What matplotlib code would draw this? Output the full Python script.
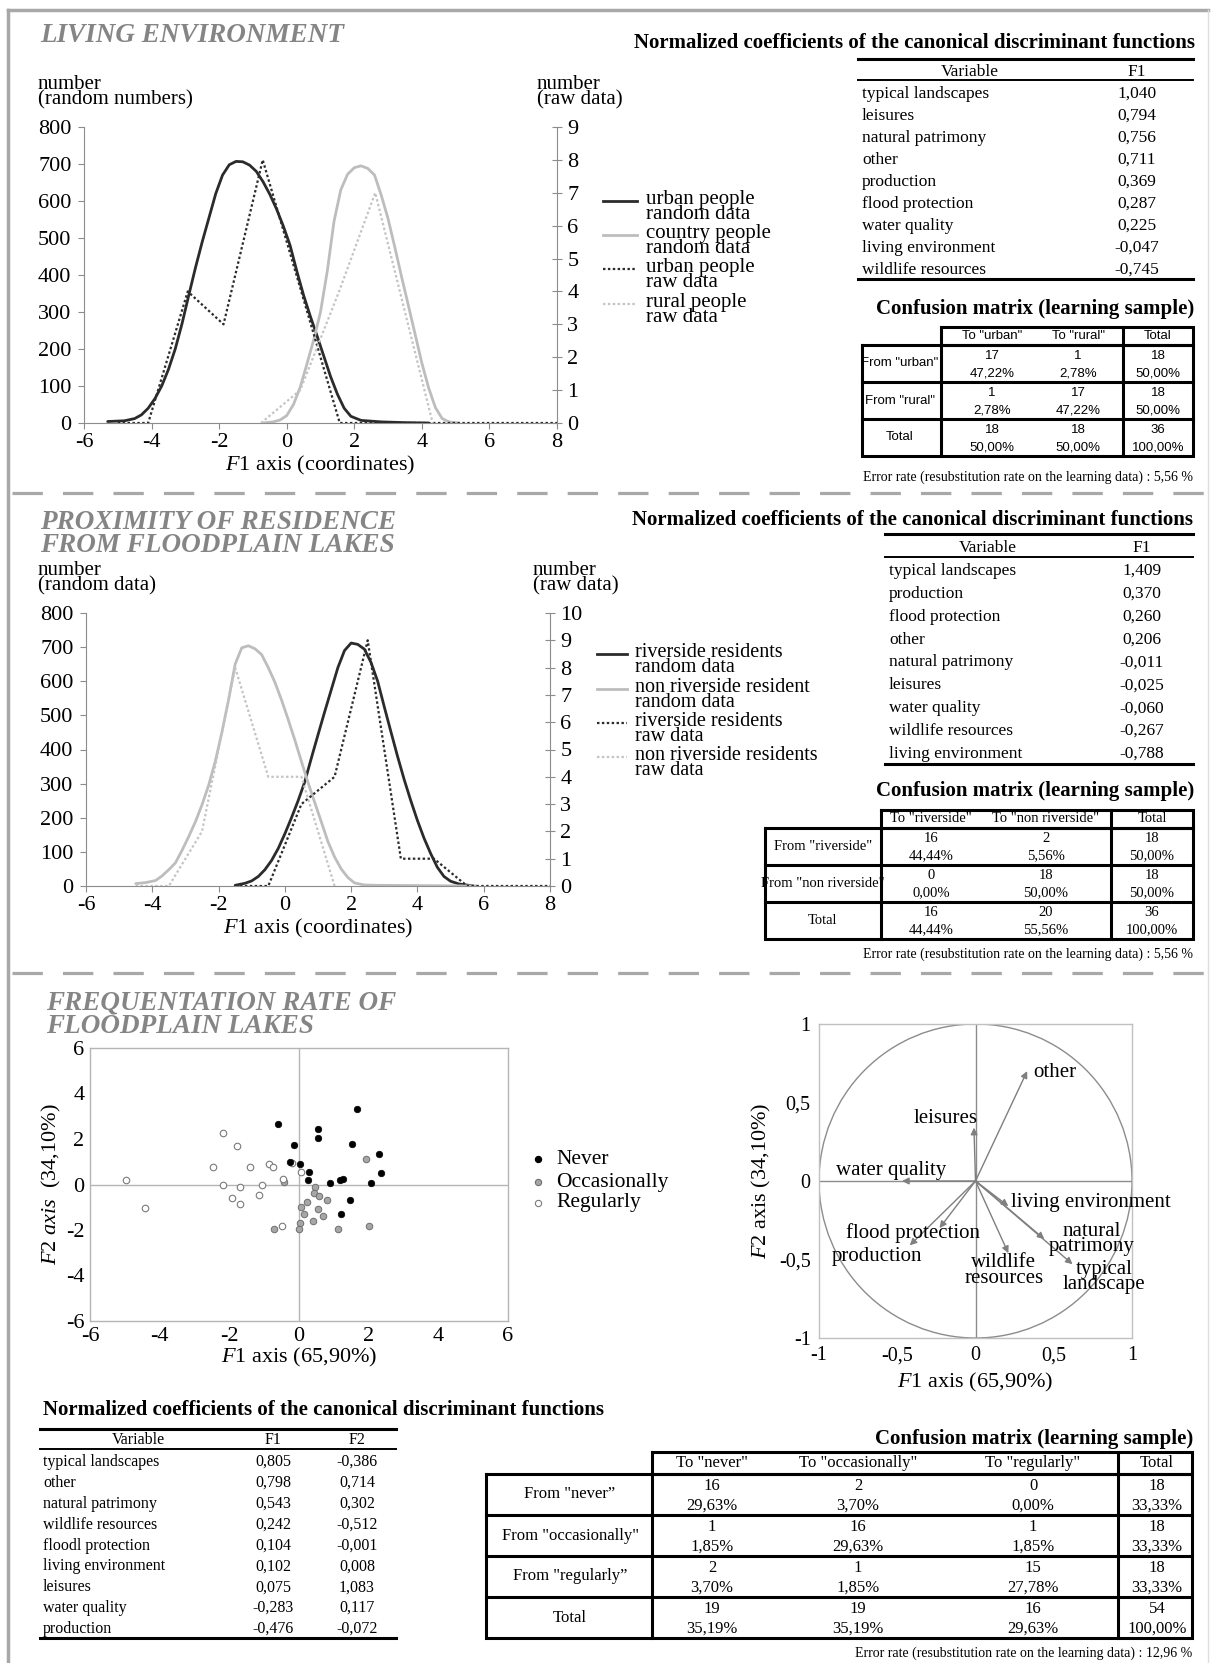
import numpy as np
import matplotlib
matplotlib.use('Agg')
import matplotlib.pyplot as plt
from matplotlib.patches import Circle
from matplotlib.ticker import FuncFormatter

W, H = 1214, 1663

plt.rcParams['font.family'] = ['Liberation Serif', 'DejaVu Serif']
plt.rcParams['mathtext.fontset'] = 'custom'
plt.rcParams['mathtext.rm'] = 'Liberation Serif'
plt.rcParams['mathtext.it'] = 'Liberation Serif:italic'
plt.rcParams['axes.unicode_minus'] = False

DARK = '#2b2b2b'
LIGHT = '#bdbdbd'
TITLE_GRAY = '#858585'
SPINE = '#8c8c8c'

# ---------------- data: living environment ----------------
urban_rand_x = [-5.3, -4.8, -4.5, -4.3, -4.1, -3.9, -3.7, -3.5, -3.3, -3.1, -2.9, -2.7, -2.5,
                -2.3, -2.1, -1.9, -1.7, -1.5, -1.3, -1.1, -0.9, -0.7, -0.5, -0.3, -0.1, 0.1,
                0.3, 0.5, 0.7, 0.9, 1.1, 1.3, 1.5, 1.7, 1.9, 2.2, 2.8, 3.5, 4.2]
urban_rand_y = [4, 6, 12, 22, 40, 66, 100, 145, 200, 268, 345, 420, 490, 555, 620, 670, 698,
                707, 706, 697, 680, 652, 618, 578, 532, 480, 410, 345, 288, 235, 180, 125,
                78, 40, 18, 7, 3, 1, 0]
country_rand_x = [-0.7, -0.4, -0.2, 0.0, 0.2, 0.4, 0.6, 0.8, 1.0, 1.2, 1.4, 1.6, 1.8, 2.0,
                  2.2, 2.4, 2.6, 2.8, 3.0, 3.2, 3.4, 3.6, 3.8, 4.0, 4.2, 4.4, 4.6, 4.8, 5.1]
country_rand_y = [0, 3, 8, 20, 50, 97, 160, 225, 300, 410, 545, 630, 672, 690, 695, 688, 670,
                  615, 552, 475, 395, 318, 240, 162, 95, 42, 12, 3, 0]
urban_raw_x = [-5.0, -4.1, -2.93, -1.87, -0.71, 1.57, 8.0]
urban_raw_y = [0, 0, 4, 3, 8, 0, 0]
rural_raw_x = [-0.76, 0.4, 1.55, 2.62, 4.32]
rural_raw_y = [0, 1, 4, 7, 0]
top_legend = ['urban people\nrandom data', 'country people\nrandom data',
              'urban people\nraw data', 'rural people\nraw data']

top_vars = ['typical landscapes', 'leisures', 'natural patrimony', 'other', 'production',
            'flood protection', 'water quality', 'living environment', 'wildlife resources']
top_f1 = [1.040, 0.794, 0.756, 0.711, 0.369, 0.287, 0.225, -0.047, -0.745]
top_rows = ['From "urban"', 'From "rural"', 'Total']
top_cols = ['To "urban"', 'To "rural"']
top_counts = [[17, 1, 18], [1, 17, 18], [18, 18, 36]]
top_pcts = [[47.22, 2.78, 50.00], [2.78, 47.22, 50.00], [50.00, 50.00, 100.00]]
top_error = 5.56

# ---------------- data: proximity of residence ----------------
river_rand_x = [-1.5, -1.2, -1.0, -0.8, -0.6, -0.4, -0.2, 0.0, 0.2, 0.4, 0.6, 0.8, 1.0, 1.2,
                1.4, 1.6, 1.8, 2.0, 2.2, 2.4, 2.6, 2.8, 3.0, 3.2, 3.4, 3.6, 3.8, 4.0, 4.2,
                4.4, 4.6, 4.8, 5.0, 5.25, 5.7]
river_rand_y = [2, 8, 15, 28, 48, 75, 110, 153, 200, 250, 305, 375, 443, 510, 575, 640, 690,
                712, 708, 694, 655, 600, 525, 452, 380, 312, 250, 192, 140, 95, 55, 28, 14,
                6, 0]
nonriver_rand_x = [-4.5, -4.2, -3.9, -3.7, -3.5, -3.3, -3.1, -2.9, -2.7, -2.5, -2.3, -2.1,
                   -1.9, -1.7, -1.5, -1.3, -1.1, -0.9, -0.7, -0.5, -0.3, -0.1, 0.1, 0.3,
                   0.5, 0.7, 0.9, 1.1, 1.3, 1.5, 1.7, 1.9, 2.1, 2.4, 2.8, 5.8]
nonriver_rand_y = [7, 10, 16, 30, 48, 68, 105, 145, 188, 238, 295, 365, 450, 545, 650, 698,
                   704, 695, 678, 640, 597, 545, 488, 428, 365, 303, 245, 188, 130, 85, 50,
                   25, 9, 3, 2, 0]
river_raw_x = [-1.5, -0.5, 0.5, 1.5, 2.5, 3.5, 4.5, 5.5, 8.0]
river_raw_y = [0, 0, 3, 4, 9, 1, 1, 0, 0]
nonriver_raw_x = [-4.5, -3.5, -2.5, -1.5, -0.5, 0.5, 1.5]
nonriver_raw_y = [0, 0, 2, 8, 4, 4, 0]
mid_legend = ['riverside residents\nrandom data', 'non riverside resident\nrandom data',
              'riverside residents\nraw data', 'non riverside residents\nraw data']

mid_vars = ['typical landscapes', 'production', 'flood protection', 'other',
            'natural patrimony', 'leisures', 'water quality', 'wildlife resources',
            'living environment']
mid_f1 = [1.409, 0.370, 0.260, 0.206, -0.011, -0.025, -0.060, -0.267, -0.788]
mid_rows = ['From "riverside"', 'From "non riverside"', 'Total']
mid_cols = ['To "riverside"', 'To "non riverside"']
mid_counts = [[16, 2, 18], [0, 18, 18], [16, 20, 36]]
mid_pcts = [[44.44, 5.56, 50.00], [0.00, 50.00, 50.00], [44.44, 55.56, 100.00]]
mid_error = 5.56

# ---------------- data: frequentation rate ----------------
never_x = [-0.59, 0.55, 0.55, 1.66, -0.14, 1.52, -0.27, 0.03, 0.29, 0.27, 0.89, 1.19, 1.26,
           2.30, 2.35, 2.06, 1.45, 1.22]
never_y = [2.64, 2.46, 2.04, 3.31, 1.75, 1.79, 0.97, 0.91, 0.57, 0.18, 0.07, 0.19, 0.22,
           1.33, 0.49, 0.07, -0.70, -1.28]
occas_x = [1.92, -0.42, 0.47, 0.43, 0.57, 0.81, 0.24, 0.06, 0.55, 0.13, 0.69, 0.40, 0.03,
           0.00, -0.71, 1.12, 2.00]
occas_y = [1.12, 0.10, -0.12, -0.37, -0.49, -0.66, -0.76, -0.97, -1.07, -1.30, -1.39, -1.61,
           -1.70, -1.96, -1.96, -1.96, -1.81]
regul_x = [-4.97, -4.41, -2.19, -1.79, -2.46, -1.42, -0.85, -0.74, -0.19, 0.07, -0.45, -2.19,
           -1.68, -1.07, -1.92, -1.68, -1.15, -0.50]
regul_y = [0.18, -1.03, 2.27, 1.69, 0.75, 0.79, 0.91, 0.75, 0.94, 0.55, 0.25, -0.04, -0.09,
           -0.03, -0.61, -0.87, -0.45, -1.82]

circle_vars = ['other', 'leisures', 'water quality', 'living environment',
               'natural\npatrimony', 'typical\nlandscape', 'wildlife\nresources',
               'flood protection', 'production']
circle_f1 = [0.33, -0.01, -0.47, 0.21, 0.44, 0.62, 0.21, -0.23, -0.42]
circle_f2 = [0.70, 0.34, 0.0, -0.16, -0.37, -0.53, -0.46, -0.30, -0.41]

bot_vars = ['typical landscapes', 'other', 'natural patrimony', 'wildlife resources',
            'floodl protection', 'living environment', 'leisures', 'water quality',
            'production']
bot_f1 = [0.805, 0.798, 0.543, 0.242, 0.104, 0.102, 0.075, -0.283, -0.476]
bot_f2 = [-0.386, 0.714, 0.302, -0.512, -0.001, 0.008, 1.083, 0.117, -0.072]
bot_rows = ['From "never\u201d', 'From "occasionally"', 'From "regularly\u201d', 'Total']
bot_cols = ['To "never"', 'To "occasionally"', 'To "regularly"']
bot_counts = [[16, 2, 0, 18], [1, 16, 1, 18], [2, 1, 15, 18], [19, 19, 16, 54]]
bot_pcts = [[29.63, 3.70, 0.00, 33.33], [1.85, 29.63, 1.85, 33.33],
            [3.70, 1.85, 27.78, 33.33], [35.19, 35.19, 29.63, 100.00]]
bot_error = 12.96


def comma(v, nd):
    return f'{v:.{nd}f}'.replace('.', ',')


fig = plt.figure(figsize=(W / 100, H / 100), dpi=100)


def box(x0, y0, x1, y1):
    # axes placed with pixel coordinates measured from the top-left corner
    return fig.add_axes([x0 / W, 1 - y1 / H, (x1 - x0) / W, (y1 - y0) / H])


page = box(0, 0, W, H)
page.set_xlim(0, W)
page.set_ylim(H, 0)
page.axis('off')

# frame and separators
page.plot([8, 1208], [10, 10], color='#a8a8a8', lw=2.5)
page.plot([8, 8], [10, H], color='#a8a8a8', lw=2.5)
page.plot([1208, 1208], [10, H], color='#dedede', lw=1)
for ys in (493, 973):
    page.plot([12, 1205], [ys, ys], color='#a8a8a8', lw=2.3, ls=(0, (9.5, 6.3)))

# section titles
ttl = dict(color=TITLE_GRAY, fontsize=19.5, fontweight='bold', fontstyle='italic',
           ha='left', va='center', linespacing=0.9)
page.text(40, 36, 'LIVING ENVIRONMENT', **ttl)
page.text(40, 534, 'PROXIMITY OF RESIDENCE\nFROM FLOODPLAIN LAKES', **ttl)
page.text(46, 1015, 'FREQUENTATION RATE OF\nFLOODPLAIN LAKES', **ttl)


def density_chart(x0, y0, x1, y1, rmax, solid, dotted, left_lab, right_lab, rlab_x):
    ax = box(x0, y0, x1, y1)
    ax.patch.set_alpha(0)
    for (xs, ys), c in zip(solid, (DARK, LIGHT)):
        ax.plot(xs, ys, color=c, lw=2.0, solid_capstyle='round', solid_joinstyle='round')
    ax.set_xlim(-6, 8)
    ax.set_ylim(0, 800)
    ax.set_xticks(range(-6, 9, 2))
    ax.set_yticks(range(0, 801, 100))
    ax.tick_params(axis='both', labelsize=16, color=SPINE, width=0.8, length=4,
                   direction='out')
    ax.tick_params(axis='y', pad=5)
    for s in ('top', 'right'):
        ax.spines[s].set_visible(False)
    for s in ('left', 'bottom'):
        ax.spines[s].set_color(SPINE)
        ax.spines[s].set_linewidth(0.8)
    ax.set_xlabel('$\\mathit{F1}$ axis (coordinates)', fontsize=16, labelpad=1)

    ax2 = ax.twinx()
    for (xs, ys), c in zip(dotted, (DARK, '#c4c4c4')):
        ax2.plot(xs, ys, color=c, lw=1.6, ls=(0, (1.1, 1.1)))
    ax2.set_ylim(0, rmax)
    ax2.set_yticks(range(0, rmax + 1))
    ax2.tick_params(axis='y', labelsize=16, color=SPINE, width=0.8, length=7,
                    direction='inout', pad=4)
    for s in ('top', 'left', 'bottom'):
        ax2.spines[s].set_visible(False)
    ax2.spines['right'].set_color(SPINE)
    ax2.spines['right'].set_linewidth(0.8)

    lab = dict(fontsize=15, ha='left', va='center', linespacing=0.72)
    page.text(38, y0 - 35, left_lab, **lab)
    page.text(rlab_x, y0 - 35, right_lab, **lab)
    return ax


def line_legend(x0, x1, xt, ys, labels, fs):
    styles = [(DARK, '-', 2.0), (LIGHT, '-', 2.0), (DARK, (0, (1.1, 1.1)), 1.6),
              ('#c4c4c4', (0, (1.1, 1.1)), 1.6)]
    for y, lab, (c, ls, lw) in zip(ys, labels, styles):
        page.plot([x0, x1], [y, y], color=c, ls=ls, lw=lw)
        page.text(xt, y + 6, lab, fontsize=fs, ha='left', va='center', linespacing=0.72)


density_chart(84, 127, 557, 423, 9,
              [(urban_rand_x, urban_rand_y), (country_rand_x, country_rand_y)],
              [(urban_raw_x, urban_raw_y), (rural_raw_x, rural_raw_y)],
              'number\n(random numbers)', 'number\n(raw data)', 537)
line_legend(603, 637, 646, [201, 235, 269, 304], top_legend, 15)

density_chart(86, 613, 550, 886, 10,
              [(river_rand_x, river_rand_y), (nonriver_rand_x, nonriver_rand_y)],
              [(river_raw_x, river_raw_y), (nonriver_raw_x, nonriver_raw_y)],
              'number\n(random data)', 'number\n(raw data)', 533)
line_legend(597, 627, 635, [654, 689, 723, 757], mid_legend, 14.5)


# ---------------- tables ----------------
def coef_table(title, title_x, title_ha, title_y, x0, x1, top, hdr_y, hdr_line, rows_y0,
               rows_y1, bottom, var_x, var_c, col_cs, col_names, names, cols, fs):
    page.text(title_x, title_y, title, fontsize=15, fontweight='bold', ha=title_ha,
              va='center')
    page.plot([x0, x1], [top, top], color='k', lw=2.2)
    page.plot([x0, x1], [hdr_line, hdr_line], color='k', lw=1.4)
    page.plot([x0, x1], [bottom, bottom], color='k', lw=2.2)
    page.text(var_c, hdr_y, 'Variable', fontsize=fs, ha='center', va='center')
    for cx, cn in zip(col_cs, col_names):
        page.text(cx, hdr_y, cn, fontsize=fs, ha='center', va='center')
    ys = np.linspace(rows_y0, rows_y1, len(names))
    for i, (y, n) in enumerate(zip(ys, names)):
        page.text(var_x, y, n, fontsize=fs, ha='left', va='center')
        for cx, col in zip(col_cs, cols):
            page.text(cx, y, comma(col[i], 3), fontsize=fs, ha='center', va='center')


def conf_table(xl, xlab, xtot, xr, ytop, yh, ybot, rows, cols, counts, pcts, lab_c,
               col_cs, tot_c, fs, family, title_y, err_y, err):
    k = dict(color='k', lw=2.2, solid_joinstyle='miter')
    page.text(xr + 1, title_y, 'Confusion matrix (learning sample)', fontsize=15,
              fontweight='bold', ha='right', va='center')
    page.plot([xlab, xr, xr, xlab, xlab], [ytop, ytop, yh, yh, ytop], **k)
    page.plot([xl, xr, xr, xl, xl], [yh, yh, ybot, ybot, yh], **k)
    page.plot([xtot, xtot], [ytop, ybot], **k)
    page.plot([xlab, xlab], [yh, ybot], **k)
    edges = np.linspace(yh, ybot, len(rows) + 1)
    for e in edges[1:-1]:
        page.plot([xl, xr], [e, e], **k)
    txt = dict(fontsize=fs, family=family, ha='center', va='center')
    hy = (ytop + yh) / 2
    for cx, c in zip(list(col_cs) + [tot_c], cols + ['Total']):
        page.text(cx, hy, c, **txt)
    for i, r in enumerate(rows):
        t, b = edges[i], edges[i + 1]
        h = b - t
        page.text(lab_c, (t + b) / 2, r, **txt)
        for cx, n, p in zip(list(col_cs) + [tot_c], counts[i], pcts[i]):
            page.text(cx, t + 0.29 * h, str(n), **txt)
            page.text(cx, b - 0.24 * h, comma(p, 2) + '%', **txt)
    page.text(xr, err_y, 'Error rate (resubstitution rate on the learning data) : '
              + comma(err, 2) + ' %', fontsize=10, ha='right', va='center')


TITLE = 'Normalized coefficients of the canonical discriminant functions'

coef_table(TITLE, 1195, 'right', 43, 858, 1193, 59, 72, 80, 94, 270, 279, 862, 970,
           [1137], ['F1'], top_vars, [top_f1], 12.5)
conf_table(862, 941, 1123, 1193, 327, 345, 456, top_rows, top_cols, top_counts, top_pcts,
           900, [992, 1078], 1158, 9.5, 'Liberation Sans', 309, 477, top_error)

coef_table(TITLE, 1193, 'right', 520, 885, 1193, 534, 548, 557, 571, 754, 764, 889, 988,
           [1142], ['F1'], mid_vars, [mid_f1], 12.5)
conf_table(765, 881, 1111, 1193, 810, 828, 939, mid_rows, mid_cols, mid_counts, mid_pcts,
           823, [931, 1046], 1152, 10.5, 'Liberation Serif', 791, 954, mid_error)

coef_table(TITLE, 43, 'left', 1410, 40, 396, 1429, 1440, 1449, 1462, 1629, 1638, 43, 138,
           [273, 357], ['F1', 'F2'], bot_vars, [bot_f1, bot_f2], 11.5)
conf_table(486, 652, 1118, 1192, 1452, 1474, 1638, bot_rows, bot_cols, bot_counts,
           bot_pcts, 570, [712, 858, 1033], 1157, 12, 'Liberation Serif', 1439, 1653,
           bot_error)

# ---------------- scatter of observations ----------------
ax = box(90, 1048, 508, 1321)
ax.axhline(0, color='#b5b5b5', lw=1, zorder=1)
ax.axvline(0, color='#b5b5b5', lw=1, zorder=1)
ax.scatter(occas_x, occas_y, s=22, facecolor='#a6a6a6', edgecolor='#6e6e6e', lw=0.7,
           zorder=3)
ax.scatter(regul_x, regul_y, s=22, facecolor='white', edgecolor='#7a7a7a', lw=0.8,
           zorder=3)
ax.scatter(never_x, never_y, s=22, facecolor='black', edgecolor='black', lw=0.5, zorder=4)
ax.set_xlim(-6, 6)
ax.set_ylim(-6, 6)
ax.set_xticks(range(-6, 7, 2))
ax.set_yticks(range(-6, 7, 2))
ax.tick_params(labelsize=16, length=0, pad=4)
for s in ax.spines.values():
    s.set_color('#b5b5b5')
    s.set_linewidth(1)
ax.set_xlabel('$\\mathit{F1}$ axis (65,90%)', fontsize=16, labelpad=0)
ax.set_ylabel('$\\mathit{F2\\ axis}$  (34,10%)', fontsize=16, labelpad=2)

leg_styles = [('black', 'black'), ('#a6a6a6', '#6e6e6e'), ('white', '#7a7a7a')]
for y, lab, (fc, ec) in zip([1159, 1182, 1203], ['Never', 'Occasionally', 'Regularly'],
                            leg_styles):
    page.plot([538], [y], 'o', ms=4.5, mfc=fc, mec=ec, mew=0.8)
    page.text(556, y, lab, fontsize=15.5, ha='left', va='center')

# ---------------- correlation circle ----------------
ax = box(819, 1024, 1132, 1338)
ax.add_patch(Circle((0, 0), 1, fill=False, color='#8c8c8c', lw=1))
ax.axhline(0, color='#8c8c8c', lw=1)
ax.axvline(0, color='#8c8c8c', lw=1)
for fx, fy in zip(circle_f1, circle_f2):
    ax.annotate('', xy=(fx, fy), xytext=(0, 0),
                arrowprops=dict(arrowstyle='-|>', color='#7f7f7f', lw=1,
                                mutation_scale=10, shrinkA=0, shrinkB=0))
label_pos = [(0.37, 0.69, 'left'), (-0.19, 0.40, 'center'), (-0.54, 0.07, 'center'),
             (0.23, -0.14, 'left'), (0.74, -0.37, 'center'), (0.82, -0.61, 'center'),
             (0.18, -0.57, 'center'), (-0.40, -0.33, 'center'), (-0.63, -0.48, 'center')]
for name, (lx, ly, ha) in zip(circle_vars, label_pos):
    ax.text(lx, ly, name, fontsize=15, ha=ha, va='center', linespacing=0.72)
ax.set_xlim(-1, 1)
ax.set_ylim(-1, 1)
ax.set_xticks([-1, -0.5, 0, 0.5, 1])
ax.set_yticks([-1, -0.5, 0, 0.5, 1])
fmt = FuncFormatter(lambda v, p: f'{v:g}'.replace('.', ','))
ax.xaxis.set_major_formatter(fmt)
ax.yaxis.set_major_formatter(fmt)
ax.tick_params(labelsize=14.5, length=0, pad=6)
for s in ax.spines.values():
    s.set_color('#c0c0c0')
    s.set_linewidth(1)
ax.set_xlabel('$\\mathit{F1}$ axis (65,90%)', fontsize=16, labelpad=4)
ax.set_ylabel('$\\mathit{F2}$ axis (34,10%)', fontsize=16, labelpad=4)

fig.savefig('out.png', dpi=100)
